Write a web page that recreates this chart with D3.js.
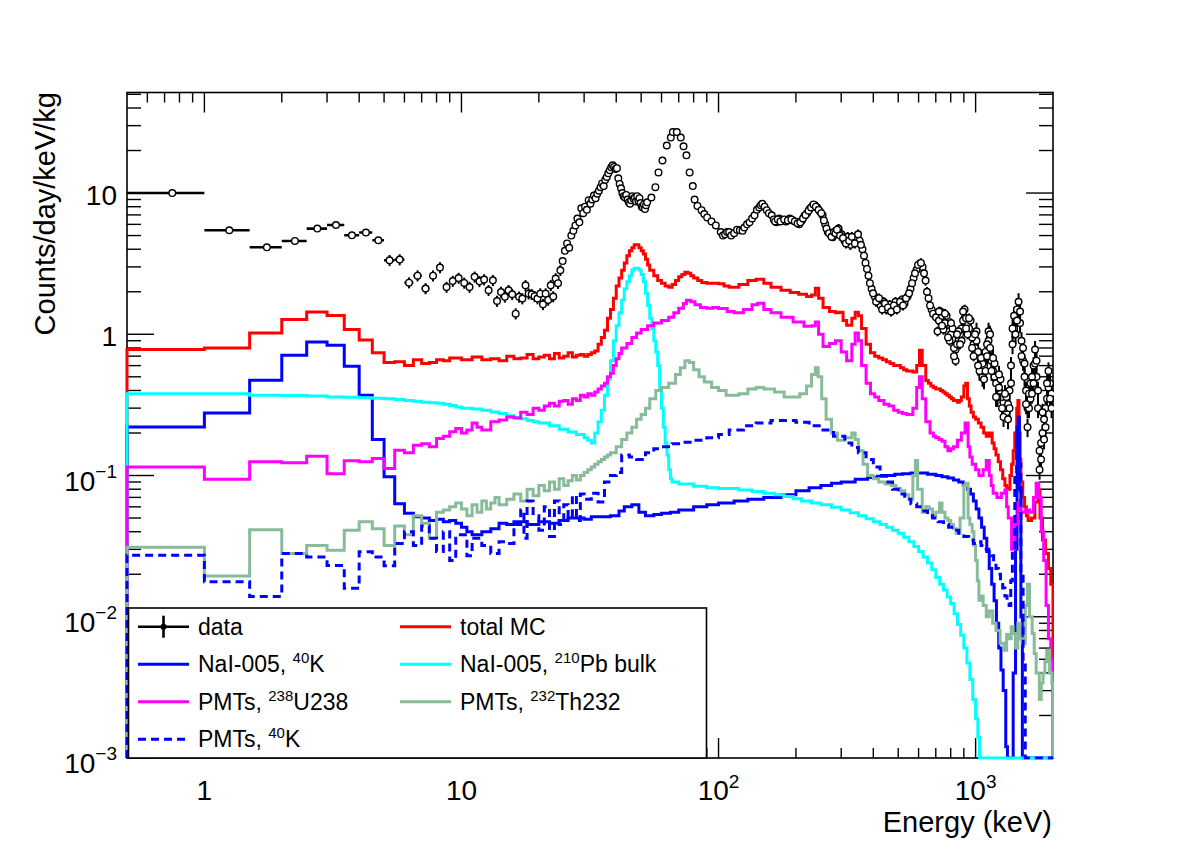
<!DOCTYPE html>
<html><head><meta charset="utf-8">
<script src="https://cdn.jsdelivr.net/npm/d3@7"></script>
<style>body{margin:0;background:#fff}svg{display:block}text{font-family:"Liberation Sans",Arial,Helvetica,sans-serif;fill:#000}</style>
</head><body><svg id="c" width="1182" height="850"></svg>
<script>
// ---------------- DATA ----------------
// measured data: bin centres (keV) and rate (counts/day/keV/kg)
const dataE = [0.75,1.25,1.75,2.25,2.75,3.25,3.75,4.25,4.75,5.25,5.75,6.25,6.75,7.25,7.75,8.25,
 8.75,9.25,9.75,10.25,10.75,11.25,11.75,12.25,12.75,13.25,13.75,14.25,14.75,15.25,15.75,16.25,16.75,17.25,17.75,18.25,18.75,19.25,19.75,20.25,20.75,21.25,21.75,22.25,22.75,23.25,23.75,24.25,
 24.75,25.25,25.75,26.25,26.75,27.25,27.75,28.25,28.75,29.25,29.75,30.25,30.75,31.25,31.75,32.25,32.75,33.25,33.75,34.25,34.75,35.25,35.75,36.25,36.75,37.25,37.75,38.25,38.75,39.25,39.75,40.25,40.75,41.25,41.75,42.25,42.75,43.25,43.75,44.25,44.75,45.25,45.75,46.25,46.75,47.25,47.75,48.25,48.75,49.25,49.75,50.25,50.75,51.25,51.75,52.25,52.75,
 54.8,56.8,58.4,60.5,62.9,65.2,66.4,68.8,71.3,73.1,75,77.2,79.4,80.7,82.8,85.9,88,90.3,93.9,97.6,102,104,106,108,110,112,115,118,121,124,126,129,132,135,138,141,144,146,148,151,154,157,161,164,168,172,177,183,189,195,201,206,211,216,221,226,232,237,242,248,254,260,266,272,278,
 166,170,174,180,186,192,198,203,208,213,218,224,229,234,239,245,251,257,263,269,275,281,
 285,293,301,309,318,326,335,344,354,363,373,383,394,405,416,427,439,450,463,475,488,501,515,529,544,558,574,589,605,622,639,656,674,692,711,730,750,771,792,813,836,858,882,906,930,956,982,1008,1036,1064,1093,1123,1153,1185,1217,1250,1284,1319,1355,1392,1430,1469,1509,1550,1592,1635,1680,1726,1773,1821,1871,1921,1974,
 289,297,305,313,322,330,339,349,358,368,378,388,399,410,421,433,444,456,469,481,494,508,522,536,551,566,581,597,613,630,647,665,683,701,720,740,760,781,802,824,847,870,894,918,943,969,995,1022,1050,1078,1108,1138,1169,1201,1233,1267,1301,1337,1373,1411,1449,1489,1529,1571,1613,1657,1703,1749,1797,1846,1896,1947,
 711,730,750,771,792,813,836,858,882,906,930,956,982,1008,1036,1064,1093,1123,1153,1185,1217,1250,1284,1319,1355,1392,1430,1469,1509,1550,1592,1635,1680,1726,1773,1821,1871,1921,1974,
 720,740,760,781,802,824,847,870,894,918,943,969,995,1022,1050,1078,1108,1138,1169,1201,1233,1267,1301,1337,1373,1411,1449,1489,1529,1571,1613,1657,1703,1749,1797,1846,1896,1947];
const dataY = [10.0,5.45,4.13,4.58,5.6,5.94,5.02,5.25,4.63,3.34,3.38,2.32,2.6,2.11,2.6,2.97,
 2.16,2.38,2.5,2.31,2.16,2.55,2.37,2.44,2.05,2.41,1.72,1.99,1.84,2.05,1.92,1.40,1.84,1.79,2.22,1.94,1.92,1.86,1.79,1.94,1.63,1.94,1.75,2.22,1.85,2.48,2.3,2.84,
 3.3,3.9,4.4,4.1,5.0,5.4,5.9,6.6,6.2,7.8,7.2,8.0,7.6,8.9,8.4,9.0,9.6,9.2,9.9,10.4,11.0,11.7,11.2,12.4,13.0,13.8,14.5,15.2,15.7,15.3,14.8,15.0,12.7,11.6,10.8,10.0,9.5,9.3,9.7,9.0,8.6,8.4,8.9,9.5,9.1,9.3,8.7,9.5,8.8,9.2,8.5,8.0,7.9,8.3,7.7,8.2,8.6,
 9.3,11.0,14.0,17.0,21.7,24.7,27.0,27.0,24.7,21.4,18.5,14.0,11.2,9.0,8.1,7.56,7.1,6.72,6.3,5.9,5.3,5.0,5.1,5.3,5.3,5.0,5.2,5.5,5.45,5.4,5.7,6.0,6.2,6.6,6.95,7.6,7.9,8.2,8.4,8.0,7.56,7.2,6.95,6.5,6.2,6.6,6.4,6.3,6.6,6.4,6.2,6.0,6.4,6.9,7.2,7.7,8.1,8.2,7.9,7.4,6.95,6.0,5.3,5.1,4.86,
 6.3,6.5,6.3,6.5,6.4,6.5,6.3,6.1,6.2,6.6,7.0,7.5,7.9,8.3,8.0,7.6,7.2,6.4,5.6,5.2,4.9,5.3,
 5.2,5.6,5.1,4.6,4.9,4.3,4.6,4.9,4.6,4.0,3.2,2.6,2.1,1.85,1.75,1.6,1.7,1.5,1.62,1.48,1.7,1.58,1.75,1.65,1.85,2.1,2.5,2.85,3.15,3.0,2.4,1.8,1.5,1.38,1.3,1.22,1.3,1.15,1.1,0.92,0.78,0.9,1.1,1.3,1.2,1.05,0.85,0.9,0.7,0.5,0.75,0.9,0.65,0.5,0.45,0.38,0.33,0.28,0.4,0.85,1.3,1.45,0.9,0.5,0.3,0.35,0.6,0.5,0.15,0.2,0.3,0.42,0.38,
 5.5,5.0,4.8,4.4,4.6,4.9,4.4,5.1,4.3,3.6,2.9,2.3,1.95,1.7,1.8,1.5,1.65,1.55,1.45,1.6,1.5,1.7,1.6,1.8,1.95,2.3,2.7,3.1,3.2,2.7,2.0,1.6,1.4,1.32,1.25,1.35,1.2,1.05,1.0,0.8,0.85,1.0,1.25,1.3,1.1,0.95,0.8,0.75,0.55,0.6,0.85,0.8,0.55,0.45,0.42,0.36,0.3,0.32,0.6,1.1,1.5,1.2,0.65,0.4,0.3,0.5,0.62,0.3,0.13,0.25,0.35,0.45,
 1.05,1.45,1.08,1.35,0.9,1.1,0.65,1.05,0.9,1.5,1.0,1.25,0.7,1.05,0.55,0.62,0.55,1.05,0.55,0.62,0.36,0.48,0.26,0.36,0.3,1.1,1.0,1.7,0.7,0.62,0.22,0.45,0.45,0.65,0.11,0.28,0.22,0.55,0.3,
 1.45,1.15,1.4,0.95,1.2,0.7,1.0,0.85,1.45,1.1,1.3,0.8,1.0,0.6,0.68,0.48,0.7,1.0,0.68,0.36,0.52,0.3,0.38,0.25,0.45,1.35,1.25,1.45,0.8,0.32,0.38,0.38,0.78,0.4,0.17,0.18,0.45,0.35];
const dataBinWidth = 0.5;
// relative statistical error of data by energy range [Emin, Emax, relErr]
const dataRelErr = [[0.5,5,0.015],[5,24.5,0.09],[24.5,280,0.03],[280,1000,0.08],[1000,2000,0.15]];

// MC histograms: [low edge keV, value]; last entry closes the range
const totalMC = [[0.5,0.78],[1,0.80],[1.5,1.02],[2,1.27],[2.5,1.44],[3,1.36],[3.5,1.08],[4,0.91],[4.5,0.74],[5,0.63],[5.5,0.64],[6,0.60],[6.5,0.66],[7,0.62],[7.5,0.63],[8,0.66],[8.5,0.65],[9,0.68],[9.5,0.68],[10,0.66],[11,0.69],[12,0.66],[13,0.67],[14,0.65],[15,0.70],[16,0.67],[17,0.68],[18,0.72],[19,0.67],[20,0.69],[21,0.71],[22,0.67],[23,0.73],[24,0.68],[25,0.70],[26,0.74],[27,0.69],[28,0.71],[29,0.72],[30,0.70],[31,0.72],[32,0.74],[33,0.76],[34,0.85],[35,0.95],[36,1.07],[37,1.3],[38,1.5],[39,1.8],[40,2.2],[41,2.5],[42,2.84],[43,3.2],[44,3.6],[45,3.9],[46,4.1],[47,4.3],[48,4.3],[49,4.1],[50,3.9],[51,3.7],[52,3.4],[53,3.1],[54,2.84],[56,2.6],[58,2.4],[60,2.3],[62,2.2],[64,2.15],[66,2.25],[68,2.4],[70,2.55],[72,2.65],[74,2.75],[76,2.7],[78,2.6],[80,2.5],[83,2.4],[86,2.33],[90,2.3],[95,2.3],[100,2.28],[105,2.2],[110,2.15],[120,2.25],[130,2.4],[140,2.45],[150,2.3],[160,2.15],[175,2.05],[190,1.98],[205,1.92],[220,1.85],[230,1.9],[238,2.12],[245,1.8],[255,1.55],[270,1.45],[285,1.42],[295,1.43],[305,1.25],[315,1.16],[330,1.3],[340,1.43],[350,1.35],[360,1.1],[375,0.85],[390,0.74],[405,0.7],[420,0.68],[435,0.66],[450,0.64],[465,0.62],[480,0.6],[495,0.6],[510,0.58],[525,0.56],[540,0.55],[555,0.55],[570,0.54],[590,0.6],[605,0.77],[620,0.6],[640,0.47],[655,0.45],[670,0.43],[685,0.42],[700,0.41],[715,0.41],[730,0.40],[745,0.39],[760,0.38],[775,0.37],[790,0.36],[805,0.35],[820,0.34],[835,0.34],[850,0.33],[865,0.34],[880,0.36],[900,0.43],[915,0.45],[930,0.35],[945,0.31],[960,0.28],[980,0.26],[1000,0.25],[1025,0.235],[1050,0.22],[1075,0.2],[1100,0.19],[1130,0.2],[1160,0.17],[1180,0.155],[1200,0.14],[1225,0.125],[1250,0.11],[1275,0.095],[1300,0.085],[1320,0.082],[1340,0.08],[1360,0.1],[1380,0.12],[1400,0.15],[1420,0.2],[1445,0.3],[1460,0.34],[1475,0.2],[1490,0.13],[1500,0.09],[1525,0.07],[1550,0.06],[1575,0.052],[1600,0.048],[1650,0.05],[1700,0.065],[1750,0.079],[1780,0.05],[1820,0.035],[1870,0.028],[1920,0.022],[1960,0.017],[2000,0.017]];
const naiK40 = [[0.5,0.221],[1,0.277],[1.5,0.472],[2,0.71],[2.5,0.882],[3,0.836],[3.5,0.594],[4,0.37],[4.5,0.18],[5,0.098],[5.5,0.063],[6,0.054],[6.5,0.051],[7,0.05],[7.5,0.048],[8,0.049],[8.5,0.047],[9,0.048],[9.5,0.046],[10,0.043],[10.5,0.040],[11,0.038],[12,0.04],[13,0.042],[14,0.046],[15,0.045],[16,0.047],[18,0.045],[20,0.047],[22,0.046],[24,0.048],[26,0.05],[28,0.05],[30,0.049],[32,0.051],[35,0.051],[38,0.052],[41,0.056],[43,0.06],[46,0.062],[49,0.055],[52,0.052],[56,0.053],[60,0.054],[65,0.055],[70,0.057],[80,0.06],[90,0.062],[100,0.064],[115,0.066],[130,0.068],[150,0.07],[175,0.073],[200,0.078],[225,0.082],[250,0.085],[275,0.088],[300,0.09],[340,0.094],[380,0.097],[415,0.099],[450,0.1],[485,0.102],[520,0.103],[560,0.104],[600,0.104],[650,0.102],[700,0.1],[740,0.098],[780,0.096],[820,0.093],[860,0.09],[895,0.086],[930,0.08],[955,0.074],[980,0.066],[1005,0.058],[1030,0.05],[1055,0.043],[1080,0.036],[1105,0.029],[1130,0.022],[1155,0.017],[1180,0.013],[1205,0.009],[1230,0.006],[1255,0.0042],[1280,0.003],[1310,0.0012],[1330,0],[1400,0.004],[1430,0.03],[1450,0.22],[1465,0.26],[1480,0.08],[1500,0.01],[1520,0],[2000,0]];
const naiPb210 = [[0.5,0.38],[1,0.38],[1.5,0.37],[2,0.368],[2.5,0.365],[3,0.36],[3.5,0.358],[4,0.355],[4.5,0.353],[5,0.35],[5.5,0.345],[6,0.34],[6.5,0.335],[7,0.33],[7.5,0.327],[8,0.325],[8.5,0.32],[9,0.313],[9.5,0.306],[10,0.3],[11,0.296],[12,0.29],[13,0.282],[14,0.275],[15,0.265],[16,0.258],[17,0.252],[18,0.245],[19,0.24],[20,0.235],[22,0.225],[24,0.213],[26,0.203],[28,0.195],[30,0.185],[31,0.178],[32,0.17],[33,0.2],[34,0.24],[35,0.29],[36,0.37],[37,0.48],[38,0.65],[39,0.9],[40,1.15],[41,1.42],[42,1.75],[43,2.1],[44,2.35],[45,2.6],[46,2.85],[47,2.93],[48,2.93],[49,2.85],[50,2.65],[51,2.35],[52,1.95],[53,1.6],[54,1.3],[55,1.1],[56,0.9],[57,0.75],[58,0.6],[59,0.42],[60,0.3],[61,0.22],[62,0.17],[63,0.14],[64,0.11],[65,0.095],[66,0.09],[70,0.087],[80,0.084],[90,0.082],[100,0.081],[120,0.079],[135,0.077],[150,0.075],[165,0.073],[180,0.071],[195,0.0685],[210,0.066],[230,0.064],[250,0.062],[275,0.0595],[300,0.057],[325,0.0545],[350,0.052],[375,0.0495],[400,0.047],[425,0.045],[450,0.043],[475,0.041],[500,0.039],[525,0.0365],[550,0.034],[575,0.0315],[600,0.029],[625,0.0265],[650,0.024],[675,0.0215],[700,0.019],[725,0.017],[750,0.0155],[775,0.0138],[800,0.0124],[825,0.0105],[850,0.0088],[875,0.0074],[900,0.006],[925,0.0047],[950,0.0036],[975,0.0026],[1000,0.0019],[1020,0.0014],[1036,0.001],[1045,0],[2000,0]];
const pmtU238 = [[0.5,0.115],[1,0.094],[1.5,0.125],[2,0.123],[2.5,0.137],[3,0.103],[3.5,0.127],[4,0.125],[4.5,0.132],[5,0.112],[5.5,0.151],[6,0.145],[6.5,0.164],[7,0.168],[7.5,0.16],[8,0.183],[8.5,0.19],[9,0.204],[9.5,0.215],[10,0.2],[10.5,0.21],[11,0.235],[11.5,0.22],[12,0.21],[13,0.24],[14,0.247],[15,0.26],[16,0.255],[17,0.28],[18,0.27],[19,0.3],[20,0.29],[21,0.31],[22,0.325],[23,0.31],[24,0.335],[25,0.34],[26,0.32],[27,0.35],[28,0.34],[29,0.37],[30,0.36],[31,0.38],[32,0.37],[33,0.39],[34,0.41],[35,0.43],[36,0.45],[37,0.5],[38,0.53],[39,0.6],[40,0.67],[41,0.73],[42,0.8],[44,0.86],[46,0.95],[48,1.02],[50,1.08],[53,1.15],[56,1.2],[60,1.25],[64,1.32],[67,1.42],[70,1.53],[73,1.65],[75,1.74],[78,1.7],[81,1.62],[85,1.55],[90,1.53],[95,1.55],[100,1.52],[108,1.45],[115,1.42],[125,1.5],[135,1.62],[142,1.66],[150,1.5],[160,1.42],[175,1.32],[195,1.22],[215,1.14],[230,1.15],[238,1.22],[245,1.0],[255,0.82],[270,0.86],[285,0.9],[300,0.75],[315,0.65],[330,0.85],[340,1.02],[350,0.9],[360,0.6],[375,0.45],[390,0.38],[405,0.36],[420,0.34],[440,0.32],[460,0.31],[480,0.29],[500,0.28],[520,0.275],[540,0.27],[570,0.3],[590,0.42],[605,0.5],[620,0.35],[640,0.24],[665,0.2],[685,0.19],[700,0.185],[720,0.18],[740,0.175],[760,0.16],[780,0.15],[800,0.155],[820,0.16],[850,0.178],[880,0.2],[910,0.235],[935,0.16],[950,0.135],[970,0.12],[1000,0.11],[1030,0.1],[1070,0.11],[1100,0.128],[1130,0.1],[1150,0.085],[1170,0.075],[1210,0.07],[1260,0.075],[1300,0.079],[1320,0.06],[1340,0.05],[1380,0.03],[1420,0.045],[1460,0.064],[1500,0.055],[1560,0.057],[1620,0.055],[1680,0.07],[1720,0.088],[1760,0.07],[1800,0.04],[1840,0.025],[1880,0.012],[1920,0.007],[1960,0.005],[2000,0.005]];
const pmtTh232 = [[0.5,0.031],[1,0.0194],[1.5,0.0413],[2,0.028],[2.5,0.032],[3,0.0296],[3.5,0.041],[4,0.047],[4.5,0.042],[5,0.032],[5.5,0.044],[6,0.038],[6.5,0.052],[7,0.046],[7.5,0.036],[8,0.055],[8.5,0.057],[9,0.06],[9.5,0.064],[10,0.058],[10.5,0.052],[11,0.062],[11.5,0.055],[12,0.066],[12.5,0.058],[13,0.064],[13.5,0.07],[14,0.062],[15,0.068],[16,0.074],[17,0.066],[18,0.08],[19,0.072],[20,0.085],[21,0.078],[22,0.09],[23,0.08],[24,0.095],[25,0.085],[26,0.092],[27,0.1],[28,0.093],[29,0.1],[30,0.105],[31,0.11],[32,0.115],[33,0.12],[34,0.125],[35,0.13],[36,0.135],[37,0.14],[38,0.145],[40,0.16],[42,0.18],[44,0.2],[46,0.22],[48,0.25],[50,0.27],[52,0.3],[54,0.35],[57,0.4],[60,0.42],[64,0.45],[68,0.52],[71,0.58],[74,0.65],[77,0.63],[80,0.56],[84,0.5],[88,0.46],[94,0.42],[100,0.4],[107,0.37],[120,0.38],[130,0.41],[140,0.42],[150,0.41],[165,0.39],[180,0.36],[195,0.36],[207,0.38],[220,0.43],[230,0.52],[238,0.58],[244,0.5],[252,0.35],[262,0.25],[275,0.2],[290,0.178],[310,0.185],[330,0.2],[340,0.18],[350,0.15],[365,0.12],[380,0.1],[400,0.095],[420,0.09],[445,0.087],[470,0.085],[490,0.081],[510,0.078],[530,0.073],[550,0.068],[570,0.1],[583,0.128],[595,0.08],[620,0.055],[640,0.06],[660,0.058],[680,0.052],[700,0.055],[724,0.064],[740,0.055],[760,0.05],[780,0.048],[800,0.045],[820,0.042],[840,0.039],[870,0.05],[900,0.085],[915,0.088],[935,0.05],[950,0.045],[970,0.04],[985,0.032],[1000,0.025],[1015,0.018],[1030,0.0131],[1050,0.014],[1070,0.012],[1100,0.01],[1130,0.011],[1165,0.009],[1200,0.008],[1245,0.0065],[1290,0.0058],[1320,0.0075],[1350,0.007],[1375,0.0085],[1400,0.0076],[1430,0.006],[1460,0.009],[1490,0.007],[1520,0.0065],[1560,0.012],[1590,0.017],[1620,0.01],[1660,0.0076],[1690,0.0055],[1720,0.004],[1770,0.0026],[1800,0.0034],[1830,0.004],[1860,0.0048],[1890,0.0058],[1940,0.004],[1980,0.0034],[2000,0.0034]];
const pmtK40 = [[0.5,0.0273],[1,0.0177],[1.5,0.0139],[2,0.028],[2.5,0.0265],[3,0.0231],[3.5,0.0159],[4,0.0288],[4.5,0.0265],[5,0.023],[5.5,0.033],[6,0.04],[6.5,0.032],[7,0.044],[7.5,0.036],[8,0.029],[8.5,0.04],[9,0.025],[9.5,0.038],[10,0.038],[10.5,0.027],[11,0.036],[12,0.032],[13,0.028],[14,0.034],[15,0.033],[16,0.045],[17,0.057],[17.5,0.036],[18,0.066],[19,0.052],[20,0.041],[21,0.06],[22,0.037],[23,0.066],[24,0.045],[25,0.062],[26,0.05],[27,0.072],[28,0.048],[29,0.074],[30,0.068],[32,0.075],[34,0.065],[36,0.09],[38,0.1],[40,0.105],[42,0.14],[45,0.135],[48,0.13],[52,0.145],[56,0.155],[60,0.16],[66,0.168],[72,0.172],[80,0.178],[90,0.185],[100,0.195],[110,0.21],[125,0.225],[140,0.235],[160,0.245],[180,0.245],[200,0.238],[225,0.225],[250,0.21],[280,0.19],[310,0.17],[330,0.158],[350,0.145],[375,0.13],[400,0.115],[425,0.1],[450,0.09],[475,0.08],[500,0.074],[530,0.068],[560,0.063],[590,0.06],[620,0.056],[650,0.052],[680,0.05],[715,0.047],[750,0.045],[785,0.043],[820,0.041],[860,0.039],[900,0.037],[940,0.035],[980,0.033],[1015,0.034],[1050,0.032],[1075,0.031],[1100,0.03],[1125,0.028],[1150,0.027],[1175,0.024],[1200,0.022],[1225,0.02],[1250,0.018],[1275,0.016],[1300,0.014],[1325,0.013],[1350,0.012],[1370,0.018],[1390,0.03],[1420,0.1],[1445,0.2],[1460,0.235],[1475,0.12],[1500,0.02],[1530,0.005],[1560,0],[2000,0]];

// axis tick labels: [base, exponent]
const xTickVals = [1,10,100,1000];
const xTickLabels = [["1",""],["10",""],["10","2"],["10","3"]];
const yTickVals = [0.001,0.01,0.1,1,10];
const yTickLabels = [["10","\u22123"],["10","\u22122"],["10","\u22121"],["1",""],["10",""]];
const xTitle = "Energy (keV)";
const yTitle = "Counts/day/keV/kg";

// ---------------- CHART ----------------
const M = {l:127, r:1053, t:92.5, b:758};
const x = d3.scaleLog().domain([0.5,2000]).range([M.l,M.r]);
const y = d3.scaleLog().domain([0.001,51.5]).range([M.b,M.t]);
const svg = d3.select("#c");
svg.append("rect").attr("width",1182).attr("height",850).attr("fill","#fff");
svg.append("defs").append("clipPath").attr("id","clip").append("rect")
  .attr("x",M.l-2).attr("y",M.t).attr("width",M.r-M.l+3).attr("height",M.b-M.t+1.5);

// frame and ticks
const gA = svg.append("g");
gA.append("rect").attr("x",M.l).attr("y",M.t).attr("width",M.r-M.l).attr("height",M.b-M.t)
  .attr("fill","none").attr("stroke","#000").attr("stroke-width",1.6);
const isMajor = v => Math.abs(Math.log10(v)-Math.round(Math.log10(v)))<1e-9;
x.ticks().forEach(v=>{
  if(v<=0.5||v>=2000) return;
  const L = isMajor(v)?20:10, px=x(v);
  gA.append("line").attr("x1",px).attr("x2",px).attr("y1",M.b).attr("y2",M.b-L).attr("stroke","#000").attr("stroke-width",1.4);
  gA.append("line").attr("x1",px).attr("x2",px).attr("y1",M.t).attr("y2",M.t+L).attr("stroke","#000").attr("stroke-width",1.4);
});
y.ticks().forEach(v=>{
  if(v<0.001||v>51.5) return;
  const L = isMajor(v)?27:14, py=y(v);
  gA.append("line").attr("x1",M.l).attr("x2",M.l+L).attr("y1",py).attr("y2",py).attr("stroke","#000").attr("stroke-width",1.4);
  gA.append("line").attr("x1",M.r).attr("x2",M.r-L).attr("y1",py).attr("y2",py).attr("stroke","#000").attr("stroke-width",1.4);
});

// tick labels
xTickVals.forEach((v,i)=>{
  const t = svg.append("text").attr("x",x(v)).attr("y",800).attr("text-anchor","middle").attr("font-size",28);
  t.append("tspan").text(xTickLabels[i][0]);
  if(xTickLabels[i][1]) t.append("tspan").attr("dy",-12).attr("font-size",19).text(xTickLabels[i][1]);
});
yTickVals.forEach((v,i)=>{
  const sup = yTickLabels[i][1];
  const t = svg.append("text").attr("x",117).attr("y",y(v)+(sup?15:12)).attr("text-anchor","end").attr("font-size",28);
  t.append("tspan").text(yTickLabels[i][0]);
  if(sup) t.append("tspan").attr("dy",-13).attr("font-size",19).text(sup);
});
svg.append("text").attr("x",1052).attr("y",832).attr("text-anchor","end").attr("font-size",29).text(xTitle);
svg.append("text").attr("transform","translate(55,92) rotate(-90)").attr("text-anchor","end").attr("font-size",29).text(yTitle);

// data points
const relErr = e => { for(const r of dataRelErr){ if(e>=r[0]&&e<r[1]) return r[2]; } return 0.05; };
const gD = svg.append("g").attr("clip-path","url(#clip)");
dataE.forEach((e,i)=>{
  const v=dataY[i], r=relErr(e);
  gD.append("line").attr("x1",x(e)).attr("x2",x(e)).attr("y1",y(v*(1+r))).attr("y2",y(v*(1-r))).attr("stroke","#000").attr("stroke-width",2);
  gD.append("line").attr("x1",x(e-dataBinWidth/2)).attr("x2",x(e+dataBinWidth/2)).attr("y1",y(v)).attr("y2",y(v)).attr("stroke","#000").attr("stroke-width",2.6);
});
dataE.forEach((e,i)=>{
  gD.append("circle").attr("cx",x(e)).attr("cy",y(dataY[i])).attr("r",3.3).attr("fill","#fff").attr("stroke","#000").attr("stroke-width",1.4);
});

// MC histograms
const yv = v => v>0 ? Math.max(M.t, Math.min(M.b, y(v))) : M.b;
function histPts(s){
  const p=[[x(s[0][0]),M.b]];
  for(let i=0;i<s.length-1;i++){ const yy=yv(s[i][1]); p.push([x(s[i][0]),yy],[x(s[i+1][0]),yy]); }
  p.push([x(s[s.length-1][0]),M.b]);
  return p;
}
const series = [
  {d:totalMC,  c:"#ff0000", dash:null},
  {d:naiK40,   c:"#0000ff", dash:null},
  {d:naiPb210, c:"#00ffff", dash:null},
  {d:pmtU238,  c:"#ff00ff", dash:null},
  {d:pmtTh232, c:"#88bb99", dash:null},
  {d:pmtK40,   c:"#0000ff", dash:"8,5"}
];
const gH = svg.append("g").attr("clip-path","url(#clip)");
const line = d3.line();
series.forEach(s=>{
  gH.append("path").attr("d",line(histPts(s.d))).attr("fill","none").attr("stroke",s.c)
    .attr("stroke-width",3).attr("stroke-dasharray",s.dash);
});

// legend
const gL = svg.append("g");
gL.append("rect").attr("x",128.5).attr("y",608).attr("width",578).attr("height",150).attr("fill","#fff").attr("stroke","#000").attr("stroke-width",1.6);
const legendRows = [626.7,664.2,701.7,739.2];
const legendCols = [{l1:138,l2:189,tx:198},{l1:400,l2:451,tx:460}];
const legendEntries = [
  {row:0,col:0,type:"data",parts:[["data",0]]},
  {row:0,col:1,c:"#ff0000",parts:[["total MC",0]]},
  {row:1,col:0,c:"#0000ff",parts:[["NaI-005, ",0],["40",1],["K",0]]},
  {row:1,col:1,c:"#00ffff",parts:[["NaI-005, ",0],["210",1],["Pb bulk",0]]},
  {row:2,col:0,c:"#ff00ff",parts:[["PMTs, ",0],["238",1],["U238",0]]},
  {row:2,col:1,c:"#88bb99",parts:[["PMTs, ",0],["232",1],["Th232",0]]},
  {row:3,col:0,c:"#0000ff",dash:"8,5",parts:[["PMTs, ",0],["40",1],["K",0]]}
];
legendEntries.forEach(en=>{
  const yy=legendRows[en.row], C=legendCols[en.col];
  if(en.type==="data"){
    gL.append("line").attr("x1",C.l1).attr("x2",C.l2).attr("y1",yy).attr("y2",yy).attr("stroke","#000").attr("stroke-width",2.6);
    const cx=(C.l1+C.l2)/2;
    gL.append("line").attr("x1",cx).attr("x2",cx).attr("y1",yy-11).attr("y2",yy+11).attr("stroke","#000").attr("stroke-width",2.6);
    gL.append("circle").attr("cx",cx).attr("cy",yy).attr("r",3).attr("fill","#000");
  } else {
    gL.append("line").attr("x1",C.l1).attr("x2",C.l2).attr("y1",yy).attr("y2",yy).attr("stroke",en.c).attr("stroke-width",3).attr("stroke-dasharray",en.dash||null);
  }
  const t=gL.append("text").attr("x",C.tx).attr("y",yy+8).attr("font-size",23);
  let raised=false;
  en.parts.forEach(p=>{
    const ts=t.append("tspan").text(p[0]);
    if(p[1]&&!raised){ ts.attr("dy",-9).attr("font-size",15); raised=true; }
    else if(!p[1]&&raised){ ts.attr("dy",9); raised=false; }
  });
});
</script>
</body></html>
